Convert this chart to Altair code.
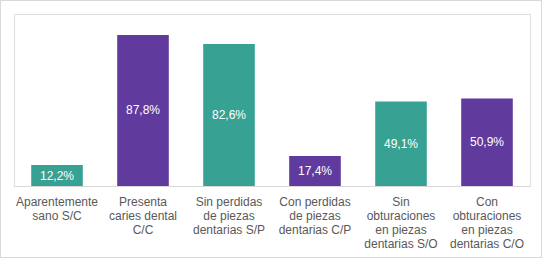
import altair as alt
import pandas as pd

categories = [
    "Aparentemente|sano S/C",
    "Presenta|caries dental|C/C",
    "Sin perdidas|de piezas|dentarias S/P",
    "Con perdidas|de piezas|dentarias C/P",
    "Sin|obturaciones|en piezas|dentarias S/O",
    "Con|obturaciones|en piezas|dentarias C/O",
]
values = [12.2, 87.8, 82.6, 17.4, 49.1, 50.9]
groups = ["sin", "con", "sin", "con", "sin", "con"]

df = pd.DataFrame({"cat": categories, "value": values, "group": groups})
df["label"] = [f"{v:.1f}%".replace(".", ",") for v in values]
df["mid"] = df["value"] / 2

x = alt.X("cat:N", sort=categories, title=None,
          scale=alt.Scale(paddingInner=0.4, paddingOuter=0.2),
          axis=alt.Axis(labelAngle=0, labelExpr="split(datum.label, '|')",
                        labelFont="Liberation Sans", labelFontSize=12,
                        labelColor="#595959", labelLineHeight=14,
                        labelPadding=10, ticks=False, domainColor="#D9D9D9",
                        labelLimit=200))
y_scale = alt.Scale(domain=[0, 100])

bars = alt.Chart(df).mark_bar().encode(
    x=x,
    y=alt.Y("value:Q", scale=y_scale, axis=None),
    color=alt.Color("group:N", scale=alt.Scale(domain=["sin", "con"],
                                               range=["#37A193", "#603A9D"]),
                    legend=None),
)

text = alt.Chart(df).mark_text(color="white", font="Liberation Sans",
                               fontSize=12, baseline="middle").encode(
    x=alt.X("cat:N", sort=categories),
    y=alt.Y("mid:Q", scale=y_scale),
    text="label:N",
)

frame = alt.Chart(df).mark_rect(fill=None, stroke="#D9D9D9", strokeWidth=1).encode(
    x=alt.value(-13.5), x2=alt.value(527.5), y=alt.value(-13.5), y2=alt.value(243.5)
)

chart = alt.layer(bars, text, frame).properties(
    width=516, height=172,
    padding={"left": 14, "top": 14, "right": 14, "bottom": 73},
    autosize=alt.AutoSizeParams(type="none"),
).configure_view(stroke=None).configure(background="white")

chart.save("out.html", embed_options={"renderer": "svg", "actions": False})
